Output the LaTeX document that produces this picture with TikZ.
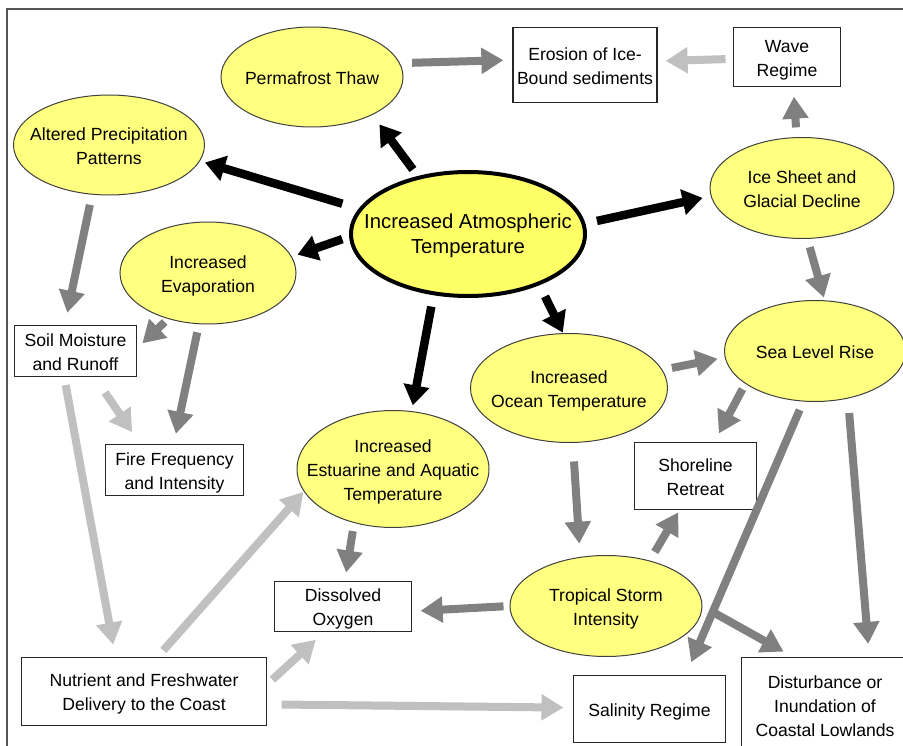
\documentclass[tikz,border=0pt]{standalone}
\usepackage{fontspec}
\setmainfont{Liberation Sans}
\usetikzlibrary{shapes.geometric,arrows.meta}
\newcommand\zb[1]{\makebox[0pt]{\raisebox{-2.5pt}[\height][\depth]{\begin{tabular}{@{}c@{}}#1\end{tabular}}}}
\definecolor{yfill}{HTML}{FFFF80}
\definecolor{yfillc}{HTML}{FFFF66}
\definecolor{garr}{HTML}{808080}
\definecolor{larr}{HTML}{C0C0C0}
\definecolor{framec}{HTML}{555555}
\begin{document}
\begin{tikzpicture}[x=1pt,y=-1pt,
 ell/.style={ellipse, draw=black!75, fill=yfill, line width=1pt, inner sep=0pt, outer sep=0pt, font=\fontsize{17.6}{24}\selectfont},
 cell/.style={ellipse, draw=black, fill=yfillc, line width=4pt, inner sep=0pt, outer sep=0pt, font=\fontsize{20.3}{25}\selectfont},
 bx/.style={rectangle, draw=black!85, fill=white, line width=1.2pt, inner sep=0pt, outer sep=0pt, font=\fontsize{17.6}{24}\selectfont},
 ba/.style={draw=black, line width=8.5pt, -{Triangle[length=20pt,width=25pt]}},
 ga/.style={draw=garr, line width=8pt, -{Triangle[length=22pt,width=25pt]}},
 la/.style={draw=larr, line width=8pt, -{Triangle[length=22pt,width=25pt]}},
]
\useasboundingbox (0,0) rectangle (903,746);
\fill[white] (0,0) rectangle (903,746);
\draw[framec, line width=1.5pt] (7,746) -- (7,9) -- (903,9);

% ellipses
\node[ell, minimum width=182pt, minimum height=100pt] (perm) at (312,77) {\zb{Permafrost Thaw}};
\node[ell, minimum width=191pt, minimum height=100pt] (prec) at (109,145) {\zb{Altered Precipitation\\Patterns}};
\node[cell, minimum width=234pt, minimum height=124pt] (cen) at (468,234) {\zb{Increased Atmospheric\\Temperature}};
\node[ell, minimum width=176pt, minimum height=102pt] (evap) at (208,273) {\zb{Increased\\Evaporation}};
\node[ell, minimum width=184pt, minimum height=101pt] (ice) at (802,188) {\zb{Ice Sheet and\\Glacial Decline}};
\node[ell, minimum width=181pt, minimum height=101pt] (sea) at (815,351) {\zb{Sea Level Rise}};
\node[ell, minimum width=197pt, minimum height=109pt] (ocean) at (569,388) {\zb{Increased\\Ocean Temperature}};
\node[ell, minimum width=192pt, minimum height=117pt] (est) at (393,469) {\zb{Increased\\Estuarine and Aquatic\\Temperature}};
\node[ell, minimum width=192pt, minimum height=101pt] (trop) at (606,606) {\zb{Tropical Storm\\Intensity}};

% boxes
\node[bx, minimum width=144pt, minimum height=75pt] (eros) at (585,65) {\zb{Erosion of Ice-\\Bound sediments}};
\node[bx, minimum width=107pt, minimum height=59pt] (wave) at (787,57) {\zb{Wave\\Regime}};
\node[bx, minimum width=122pt, minimum height=51pt] (soil) at (75.5,351) {\zb{Soil Moisture\\and Runoff}};
\node[bx, minimum width=138pt, minimum height=51pt] (fire) at (174.5,470) {\zb{Fire Frequency\\and Intensity}};
\node[bx, minimum width=137pt, minimum height=50pt] (diss) at (343,606.5) {\zb{Dissolved\\Oxygen}};
\node[bx, minimum width=245pt, minimum height=68pt] (nutr) at (144,691.5) {\zb{Nutrient and Freshwater\\Delivery to the Coast}};
\node[bx, minimum width=122pt, minimum height=67pt] (shore) at (695.5,476) {\zb{Shoreline\\Retreat}};
\node[bx, minimum width=152pt, minimum height=67pt] (sal) at (649.5,709) {\zb{Salinity Regime}};
\node[bx, minimum width=167pt, minimum height=95pt] (dist) at (825,705) {\zb{Disturbance or\\Inundation of\\Coastal Lowlands}};

% black arrows
\draw[ba, shorten <=10.2pt, shorten >=12.3pt] (cen.131.2) -- (perm.-32.7);
\draw[ba, shorten <=19.2pt, shorten >=5.7pt] (cen.167) -- (prec.-10.6);
\draw[ba, shorten <=9.3pt, shorten >=6.4pt] (cen.181.8) -- (evap.11.3);
\draw[ba, shorten <=13.8pt, shorten >=8.8pt] (cen.5.3) -- (ice.185.1);
\draw[ba, shorten <=14.5pt, shorten >=1.1pt] (cen.-35.3) -- (ocean.96.1);
\draw[ba, shorten <=13.5pt, shorten >=6.4pt] (cen.240) -- (est.72.6);

% gray arrows
\draw[ga, shorten <=12.7pt, shorten >=9.6pt] (perm.9.6) -- (eros.176.5);
\draw[ga, shorten <=10.8pt, shorten >=13pt] (prec.251.6) -- (soil.113.5);
\draw[ga, shorten <=5.1pt, shorten >=8pt] (evap.229.3) -- (soil.2.5);
\draw[ga, shorten <=8.8pt, shorten >=11pt] (evap.260.5) -- (fire.92.3);
\draw[ga, shorten <=10.2pt, shorten >=10.2pt] (ice.96.5) -- (wave.-78.7);
\draw[ga, shorten <=9.1pt, shorten >=3.3pt] (ice.-84.3) -- (sea.79.5);
\draw[ga, shorten <=10.2pt, shorten >=7.7pt] (ocean.11.5) -- (sea.184.1);
\draw[ga, shorten <=6.5pt, shorten >=10.2pt] (sea.205.6) -- (shore.61.3);
\draw[ga, shorten <=19pt, shorten >=13.7pt] (ocean.-86.9) -- (trop.118.4);
\draw[ga, shorten <=10.5pt, shorten >=3.3pt] (trop.46.1) -- (shore.245.9);
\draw[ga, shorten <=6.5pt, shorten >=9.1pt] (trop.180.6) -- (diss.-4.8);
\draw[ga, shorten <=9.5pt, shorten >=12.1pt] (trop.-0.5) -- (dist.123.9);
\draw[ga, shorten <=9.6pt, shorten >=14.5pt] (sea.257.8) -- (sal.43.4);
\draw[ga, shorten <=15pt, shorten >=13.6pt] (sea.-55.7) -- (dist.47.6);
\draw[ga, shorten <=8.7pt, shorten >=9.1pt] (est.234.2) -- (diss.86.7);

% light gray arrows
\draw[la, shorten <=8pt, shorten >=8.6pt] (wave.182.8) -- (eros.3.5);
\draw[la, shorten <=19.5pt, shorten >=15pt] (soil.-54.9) -- (fire.143);
\draw[la, shorten <=8.7pt, shorten >=13.1pt] (soil.246.9) -- (nutr.130.5);
\draw[la, shorten <=9.5pt, shorten >=1.1pt] (nutr.69.8) -- (est.194.3);
\draw[la, shorten <=8pt, shorten >=12.2pt] (nutr.3.7) -- (diss.234.8);
\draw[la, shorten <=15.1pt, shorten >=10pt] (nutr.-6.8) -- (sal.179.3);
\end{tikzpicture}
\end{document}
